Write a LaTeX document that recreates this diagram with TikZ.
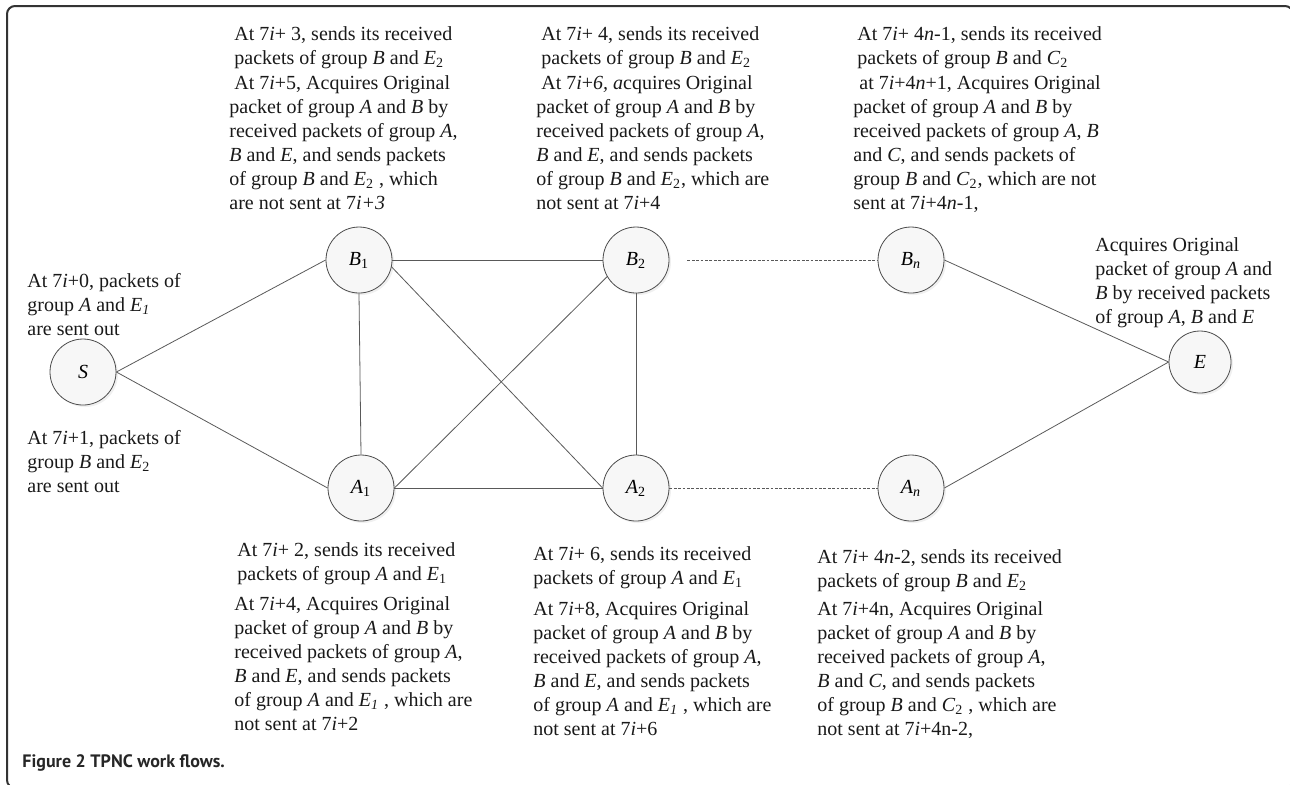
\documentclass[tikz,border=0pt]{standalone}
\usepackage{fontspec}
\setmainfont{Liberation Serif}
\newfontfamily\capfont{PT Sans}
\usepackage{tikz}
\usetikzlibrary{positioning, shadows}

\begin{document}
\begin{tikzpicture}[x=0.5pt, y=-0.5pt, line join=bevel,
        relay/.style={draw=black!70, circle, fill=black!3, minimum size=33pt, inner sep=0pt,
                font=\fontsize{10}{12}\selectfont,
                drop shadow={opacity=0.12, shadow xshift=1pt, shadow yshift=-1pt}},
        info/.style={anchor=north west, align=left, inner sep=0pt,
                font=\fontsize{10}{12}\selectfont, text=black!90},
        link/.style={draw=black!65, line width=0.4pt},
        farlink/.style={link, dash pattern=on 1.4pt off 0.8pt}]
        \useasboundingbox (0,0) rectangle (1290,784);
        \begin{scope}
          \clip (0,0) rectangle (1290,784);
          \draw[black!80, line width=1pt, rounded corners=4pt] (7,6) rectangle (1293,788);
        \end{scope}

        \node[relay] (S) at (83,372) {\textit{S}};
        \node[relay] (B1) at (359,260) {\textit{B}\textsubscript{1}};
        \node[relay] (A1) at (361,488) {\textit{A}\textsubscript{1}};
        \node[relay] (B2) at (636,260) {\textit{B}\textsubscript{2}};
        \node[relay] (A2) at (636,488) {\textit{A}\textsubscript{2}};
        \node[relay] (Bn) at (911,260) {\textit{B\textsubscript{n}}};
        \node[relay] (An) at (911,488) {\textit{A\textsubscript{n}}};
        \node[relay, minimum size=31pt] (E) at (1200,362) {\textit{E}};

        \draw[link] (S.east) -- (B1.west);
        \draw[link] (S.east) -- (A1.west);
        \draw[link] (B1.east) -- (B2.west);
        \draw[link] (B1.south) -- (A1.north);
        \draw[link] (B1.-12) -- (A2.west);
        \draw[link] (A1.east) -- (B2.210);
        \draw[link] (A1.east) -- (A2.west);
        \draw[link] (B2.south) -- (A2.north);
        \draw[farlink, shorten <=9pt] (B2.east) -- (Bn.west);
        \draw[farlink] (A2.east) -- (An.west);
        \draw[link] (Bn.east) -- (E.west);
        \draw[link] (An.east) -- (E.west);

        \node[info] (b1info) at (229,26) {\hspace*{2.5pt}At 7\textit{i}+ 3, sends its received\\
                \hspace*{2.5pt}packets of group \textit{B} and \textit{E}\textsubscript{2}\\[0.5pt]
                \hspace*{2.5pt}At 7\textit{i}+5, Acquires Original\\
                packet of group \textit{A} and \textit{B} by\\
                received packets of group \textit{A},\\
                \textit{B} and \textit{E}, and sends packets\\
                of group \textit{B} and \textit{E}\textsubscript{2} , which\\
                are not sent at 7\textit{i+3}};
        \node[info] (b2info) at (536,26) {\hspace*{2.5pt}At 7\textit{i}+ 4, sends its received\\
                \hspace*{2.5pt}packets of group \textit{B} and \textit{E}\textsubscript{2}\\[0.5pt]
                \hspace*{2.5pt}At 7\textit{i}+\textit{6, a}cquires Original\\
                packet of group \textit{A} and \textit{B} by\\
                received packets of group \textit{A},\\
                \textit{B} and \textit{E}, and sends packets\\
                of group \textit{B} and \textit{E}\textsubscript{2}, which are\\
                not sent at 7\textit{i}+4};
        \node[info] (bninfo) at (853,26) {\hspace*{2pt}At 7\textit{i}+ 4\textit{n}-1, sends its received\\
                \hspace*{2pt}packets of group \textit{B} and \textit{C}\textsubscript{2}\\[0.5pt]
                \hspace*{3pt}at 7\textit{i}+4\textit{n}+1, Acquires Original\\
                packet of group \textit{A} and \textit{B} by\\
                received packets of group \textit{A}, \textit{B}\\
                and \textit{C}, and sends packets of\\
                group \textit{B} and \textit{C}\textsubscript{2}, which are not\\
                sent at 7\textit{i}+4\textit{n}-1,};

        \node[info] (sinfo1) at (27,273) {At 7\textit{i}+0, packets of\\
                group \textit{A} and \textit{E\textsubscript{1}}\\
                are sent out};
        \node[info] (sinfo2) at (27,430) {At 7\textit{i}+1, packets of\\
                group \textit{B} and \textit{E}\textsubscript{2}\\
                are sent out};

        \node[info] (a1info) at (234,542) {\hspace*{1.5pt}At 7\textit{i}+ 2, sends its received\\
                \hspace*{1.5pt}packets of group \textit{A} and \textit{E}\textsubscript{1}\\[3pt]
                At 7\textit{i}+4, Acquires Original\\
                packet of group \textit{A} and \textit{B} by\\
                received packets of group \textit{A},\\
                \textit{B} and \textit{E}, and sends packets\\
                of group \textit{A} and \textit{E\textsubscript{1}} , which are\\
                not sent at 7\textit{i}+2};
        \node[info] (a2info) at (533,546) {At 7\textit{i}+ 6, sends its received\\
                packets of group \textit{A} and \textit{E}\textsubscript{1}\\[3.5pt]
                At 7\textit{i}+8, Acquires Original\\
                packet of group \textit{A} and \textit{B} by\\
                received packets of group \textit{A},\\
                \textit{B} and \textit{E}, and sends packets\\
                of group \textit{A} and \textit{E\textsubscript{1}} , which are\\
                not sent at 7\textit{i}+6};
        \node[info] (aninfo) at (817,549) {At 7\textit{i}+ 4\textit{n}-2, sends its received\\
                packets of group \textit{B} and \textit{E}\textsubscript{2}\\[2pt]
                At 7\textit{i}+4n, Acquires Original\\
                packet of group \textit{A} and \textit{B} by\\
                received packets of group \textit{A},\\
                \textit{B} and \textit{C}, and sends packets\\
                of group \textit{B} and \textit{C}\textsubscript{2} , which are\\
                not sent at 7\textit{i}+4n-2,};

        \node[info] (einfo) at (1095,237) {Acquires Original\\
                packet of group \textit{A} and\\
                \textit{B} by received packets\\
                of group \textit{A}, \textit{B} and \textit{E}};

        \node[anchor=west, inner sep=0pt, text=black!85,
                font=\capfont\bfseries\fontsize{9}{11}\selectfont] (caption) at (22,763) {Figure 2 TPNC work flows.};
      \end{tikzpicture}
\end{document}
